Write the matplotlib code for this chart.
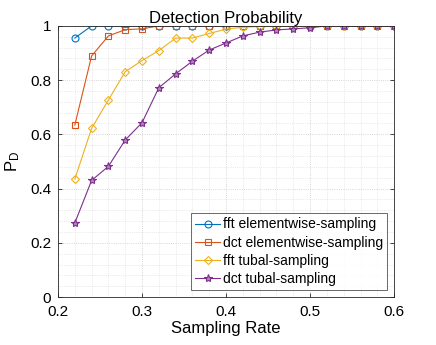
import matplotlib
matplotlib.use("Agg")
import matplotlib.pyplot as plt
from matplotlib.ticker import MultipleLocator

plt.rcParams['font.family'] = ['Liberation Sans', 'DejaVu Sans']

rates = [0.22, 0.24, 0.26, 0.28, 0.30, 0.32, 0.34, 0.36, 0.38, 0.40,
         0.42, 0.44, 0.46, 0.48, 0.50, 0.52, 0.54, 0.56, 0.58, 0.60]
fft_elem = [0.955, 1, 1, 1, 1, 1, 1, 1, 1, 1, 1, 1, 1, 1, 1, 1, 1, 1, 1, 1]
dct_elem = [0.634, 0.889, 0.963, 0.986, 0.989, 1, 1, 1, 1, 1,
            1, 1, 1, 1, 1, 1, 1, 1, 1, 1]
fft_tubal = [0.435, 0.622, 0.727, 0.831, 0.872, 0.909, 0.955, 0.955, 0.972, 0.988,
             0.995, 0.998, 1, 1, 1, 1, 1, 1, 1, 1]
dct_tubal = [0.273, 0.430, 0.482, 0.579, 0.643, 0.772, 0.823, 0.870, 0.911, 0.937,
             0.963, 0.977, 0.985, 0.989, 0.993, 1, 1, 1, 1, 1]
labels = ['fft elementwise-sampling', 'dct elementwise-sampling',
          'fft tubal-sampling', 'dct tubal-sampling']

colors = ['#0072BD', '#D95319', '#EDB120', '#7E2F8E']
markers = ['o', 's', 'D', '*']
msizes = [5, 5, 4.5, 6]

fig = plt.figure(figsize=(4.36, 3.45), dpi=100)
ax = fig.add_axes([0.133, 0.139, 0.771, 0.786])

series = [fft_elem, dct_elem, fft_tubal, dct_tubal]
for i, (y, lab) in enumerate(zip(series, labels)):
    if i == 3:
        ax.plot(rates, y, color=colors[i], marker=markers[i], markersize=msizes[i],
                markerfacecolor='#b57fc0', markeredgecolor=colors[i],
                markeredgewidth=0.8, linewidth=0.8, label=lab)
    else:
        ax.plot(rates, y, color=colors[i], marker=markers[i], markersize=msizes[i],
                markerfacecolor='none', markeredgewidth=0.8, linewidth=0.8, label=lab)

ax.set_xlim(0.2, 0.6)
ax.set_ylim(0, 1)
ax.xaxis.set_minor_locator(MultipleLocator(0.02))
ax.yaxis.set_minor_locator(MultipleLocator(0.04))
ax.set_xticks([0.2, 0.3, 0.4, 0.5, 0.6])
ax.set_xticklabels(['0.2', '0.3', '0.4', '0.5', '0.6'])
ax.set_yticks([0, 0.2, 0.4, 0.6, 0.8, 1])
ax.set_yticklabels(['0', '0.2', '0.4', '0.6', '0.8', '1'])

ax.grid(True, which='major', linestyle=':', color='#c8c8c8', linewidth=0.6)
ax.grid(True, which='minor', linestyle=':', color='#d8d8d8', linewidth=0.5)
ax.set_axisbelow(True)
ax.tick_params(which='both', direction='in', top=True, right=True,
               labelsize=11, color='#262626', width=0.6, length=3)
ax.tick_params(axis='x', pad=6)
ax.tick_params(axis='y', pad=5)
ax.tick_params(which='minor', length=0)
for s in ax.spines.values():
    s.set_color('#262626')
    s.set_linewidth(0.6)

ax.set_title('Detection Probability', fontsize=12, pad=2)
ax.set_xlabel('Sampling Rate', fontsize=12, labelpad=1)
ax.set_ylabel('$\\mathregular{P_D}$', fontsize=12, labelpad=6)

leg = ax.legend(loc='lower right', fontsize=10, frameon=True, fancybox=False,
                borderpad=0.3, labelspacing=0.3, handlelength=1.8,
                handletextpad=0.2, borderaxespad=0.5)
leg.get_frame().set_edgecolor('#262626')
leg.get_frame().set_linewidth(0.6)

fig.savefig('out.png', dpi=100)
